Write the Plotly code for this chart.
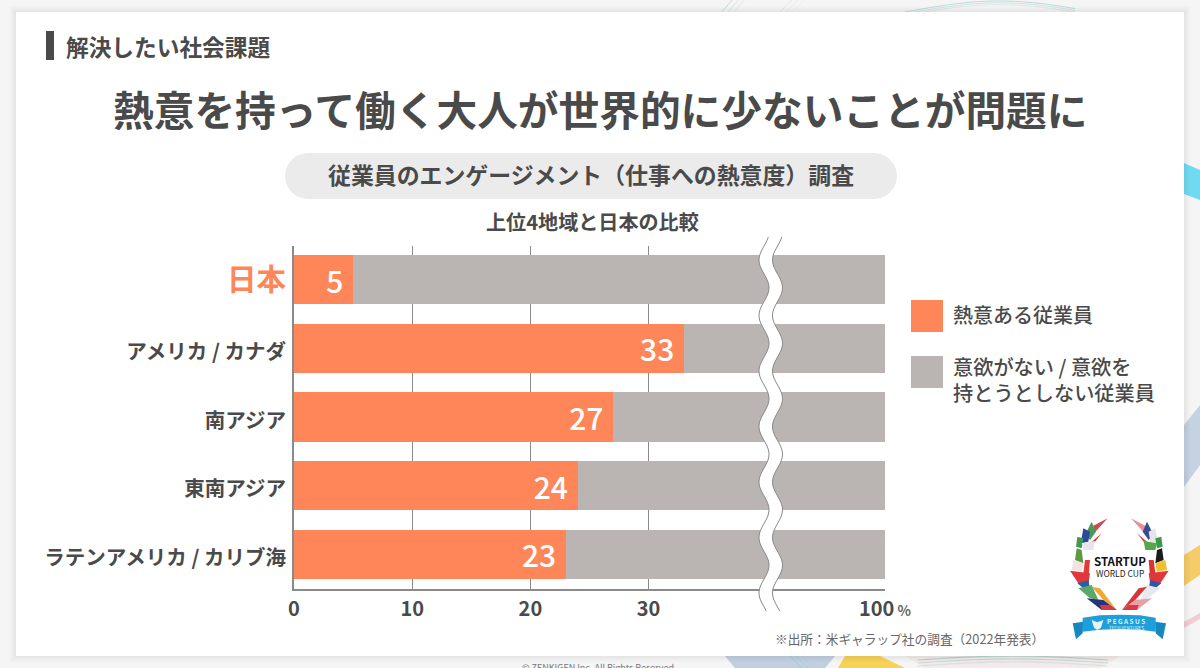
import math
import plotly.graph_objects as go

regions = ["日本", "アメリカ / カナダ", "南アジア", "東南アジア", "ラテンアメリカ / カリブ海"]
engaged = [5, 33, 27, 24, 23]
others = [95, 67, 73, 76, 77]
x_tick_values = [0, 10, 20, 30, 50]
x_tick_labels = ["0", "10", "20", "30", "100<span style='font-size:14px;color:#666'> %</span>"]
grid_values = [10, 20, 30]
series_names = ["熱意ある従業員", "意欲がない / 意欲を<br>持とうとしない従業員"]

ORANGE = "#ff8658"
GRAY = "#bab5b2"
INK = "#4a4a4a"
FONT = "Noto Sans CJK JP"
W, H = 1200, 668


def px(x):
    return x / W


def py(y):
    return 1 - y / H


def poly(points, fill, opacity=1, layer="above", ox=0, oy=0, scale=1, closed=True):
    d = "M " + " L ".join(f"{px(ox + a * scale):.5f},{py(oy + b * scale):.5f}" for a, b in points)
    if closed:
        d += " Z"
    s = dict(type="path", xref="paper", yref="paper", path=d, layer=layer, opacity=opacity,
             line=dict(width=0))
    if closed:
        s["fillcolor"] = fill
    return s


def line_path(points, color, width, opacity=1, layer="below"):
    d = "M " + " L ".join(f"{px(a):.5f},{py(b):.5f}" for a, b in points)
    return dict(type="path", xref="paper", yref="paper", path=d, layer=layer, opacity=opacity,
                line=dict(color=color, width=width))


def rect(x0, y0, x1, y1, fill, layer="below", opacity=1):
    return dict(type="rect", xref="paper", yref="paper", x0=px(x0), x1=px(x1), y0=py(y1), y1=py(y0),
                fillcolor=fill, line=dict(width=0), layer=layer, opacity=opacity)


def note(text, x, y, size, color=INK, anchor="left", weight=700, align="left", **kw):
    return dict(text=text, x=px(x), y=py(y), xref="paper", yref="paper", xanchor=anchor, yanchor="middle",
                showarrow=False, align=align, font=dict(family=FONT, size=size, color=color, weight=weight), **kw)


shapes = []
# background decoration
shapes += [
    poly([(1184, 163), (1200, 170), (1200, 200), (1184, 194)], "#58d6ee", 0.85, "below"),
    poly([(1184, 425), (1200, 405), (1200, 465), (1184, 487)], "#b9c9dc", 0.8, "below"),
    poly([(1184, 555), (1200, 545), (1200, 575), (1184, 586)], "#f6c85a", 0.9, "below"),
    poly([(1184, 622), (1200, 613), (1200, 619), (1184, 628)], "#f3c6d0", 0.9, "below"),
    poly([(725, 656), (835, 656), (825, 668), (735, 668)], "#bccbdc", 0.9, "below"),
    poly([(845, 656), (880, 656), (905, 668), (838, 668)], "#f7d04e", 0.95, "below"),
    poly([(905, 656), (1120, 656), (1100, 668), (925, 668)], "#f3e6e6", 0.7, "below"),
]
for off, op in ((0, 0.55), (3, 0.35), (6, 0.25)):
    pts = [(905 + i * 8.5, 12 - 11 * math.sin(i / 20 * math.pi * 0.9) + off * 0.6) for i in range(21)]
    shapes.append(line_path(pts, "#8fc9c6", 1, op))
    pts = [(918 + i * 9.5, 668 - 8 + off - 4 * math.sin(i / 20 * math.pi)) for i in range(21)]
    shapes.append(line_path(pts, "#7fc4bf", 1.2, op))
    shapes.append(line_path([(722 + off * 2, 12), (732 + off * 2, 0)], "#9cc9c9", 1, op))
    shapes.append(line_path([(780 + off * 2, 12), (792 + off * 2, 0)], "#cfe0e0", 1, op))
    shapes.append(line_path([(790 + off * 2, 656), (802 + off * 2, 668)], "#8ccac6", 1, op))

# card with a soft shadow
for g, op in ((6, 0.015), (4, 0.02), (2, 0.025)):
    shapes.append(rect(16 - g, 12 - g, 1184 + g, 656 + g, "#000000", opacity=op))
shapes.append(rect(16, 12, 1184, 656, "#ffffff"))

# heading marker and pill
shapes.append(rect(46, 31, 54, 60, INK))
r = 23
shapes.append(dict(type="path", xref="paper", yref="paper", layer="below", fillcolor="#ebebeb", line=dict(width=0),
                   path=("M " + " L ".join(
                       f"{px(a):.5f},{py(b):.5f}" for a, b in
                       [(285 + r - r * math.sin(t / 12 * math.pi), 176 - r * math.cos(t / 12 * math.pi)) for t in range(13)]
                       + [(897 - r + r * math.sin(t / 12 * math.pi), 176 + r * math.cos(t / 12 * math.pi)) for t in range(13)]
                   ) + " Z")))

# axis break
period = 55.5
ys = [237 + i * 2 for i in range(188)]
left = [(764 + 5 * math.cos((y - 260) / period * 2 * math.pi + math.pi), y) for y in ys]
right = [(a + 13.5, b) for a, b in left]
shapes.append(poly(left + right[::-1], "#ffffff"))
shapes.append(line_path(left, "#8a8a8a", 1, layer="above"))
shapes.append(line_path(right, "#8a8a8a", 1, layer="above"))

# legend swatches
shapes.append(rect(911, 300, 943, 332, ORANGE, "above"))
shapes.append(rect(911, 356, 943, 388, GRAY, "above"))

# emblem
LOGO = dict(ox=1040, oy=505, scale=1 / 3)
pieces = [
    ([(203, 40), (160, 62), (165, 82)], "#cf4a56", "#e8909a"),
    ([(155, 50), (168, 80), (150, 105), (135, 90)], "#4a9a5a", "#3b4a8e"),
    ([(130, 70), (150, 80), (145, 110), (122, 115)], "#2b4a9a", "#e4e4ea"),
    ([(112, 95), (130, 100), (125, 130), (108, 125)], "#3f9a50", "#3a9a4a"),
    ([(185, 85), (150, 115), (140, 130), (165, 110)], "#d83a3a", "#d83a3a"),
    ([(125, 115), (165, 108), (160, 135), (130, 135)], "#e6e6ec", "#54a84a"),
    ([(110, 130), (125, 135), (130, 175), (105, 165)], "#5f9a3e", "#1b1b1b"),
    ([(100, 165), (130, 175), (125, 200), (95, 195)], "#f2e2e2", "#f0c030"),
    ([(135, 165), (150, 165), (145, 225), (130, 205)], "#e23a3a", "#d9362f"),
    ([(90, 197), (150, 205), (145, 240), (115, 235)], "#e0383a", "#e0383a"),
    ([(112, 235), (145, 225), (150, 250), (130, 250)], "#2a5fa8", "#3058a8"),
    ([(115, 250), (155, 240), (175, 285), (150, 280)], "#5aa86a", "#e8e8f0"),
    ([(155, 245), (180, 250), (230, 315), (190, 285)], "#f0a830", "#d8353a"),
    ([(140, 280), (190, 285), (230, 315), (185, 315)], "#27337a", "#e8a0a6"),
    ([(180, 300), (210, 300), (230, 315), (185, 315)], "#d83a44", "#d83a44"),
]
for pts, c_left, c_right in pieces:
    shapes.append(poly(pts, c_left, **LOGO))
    shapes.append(poly([(476 - a, b) for a, b in pts], c_right, **LOGO))
shapes.append(poly([(98, 355), (130, 350), (128, 385), (108, 403)], "#1787bf", **LOGO))
shapes.append(poly([(378, 355), (345, 350), (347, 385), (368, 403)], "#1787bf", **LOGO))
shapes.append(poly([(128, 338), (180, 331), (240, 329), (300, 331), (347, 338), (347, 380), (300, 374),
                    (240, 372), (180, 374), (128, 380)], "#1f9fda", **LOGO))
shapes.append(poly([(155, 345), (172, 352), (190, 345), (183, 368), (172, 375), (162, 368)], "#e6f3fa", **LOGO))

annotations = [
    note("解決したい社会課題", 64, 46, 22.7, weight=700),
    note("熱意を持って働く大人が世界的に少ないことが問題に", 599.5, 108, 40.7, anchor="center"),
    note("従業員のエンゲージメント（仕事への熱意度）調査", 591, 174, 22.9, anchor="center"),
    note("上位4地域と日本の比較", 592.5, 221, 20.1, anchor="center"),
    note(series_names[0], 951, 314, 20, weight=500),
    note(series_names[1], 951, 379.5, 20.2, weight=500),
    note("※出所：米ギャラップ社の調査（2022年発表）", 773, 638, 12.7, color="#666666", weight=400),
    note("© ZENKIGEN Inc. All Rights Reserved.", 599, 667, 9, color="#777777", anchor="center", weight=400),
    note("STARTUP", 1119.5, 561, 11.5, color="#111111", anchor="center", weight=700),
    note("WORLD CUP", 1119.5, 573, 8.5, color="#222222", anchor="center", weight=400),
    note("P E G A S U S", 1126, 621, 6.5, color="#ffffff", anchor="center", weight=500),
    note("TECH VENTURES", 1126, 627.5, 4.5, color="#e8f6fc", anchor="center", weight=400),
]

tick_text = [f"<span style='font-size:29.5px;color:{ORANGE}'>{regions[0]}</span>"] + regions[1:]

fig = go.Figure()
fig.add_bar(y=regions, x=engaged, orientation="h", name="熱意ある従業員", marker=dict(color=ORANGE, line=dict(width=0)),
            text=[f"{v}\u00a0" for v in engaged], textposition="inside", insidetextanchor="end",
            constraintext="none", textangle=0,
            textfont=dict(family=FONT, size=30, color="#ffffff", weight=500), showlegend=False, hoverinfo="skip")
fig.add_bar(y=regions, x=others, orientation="h", name="意欲がない / 意欲を持とうとしない従業員",
            marker=dict(color=GRAY, line=dict(width=0)), showlegend=False, hoverinfo="skip")
# carries the region labels on a second axis set a few pixels lower than the bars' axis
fig.add_scatter(y=regions, x=engaged, xaxis="x2", yaxis="y2", mode="markers", marker=dict(opacity=0, size=1),
                showlegend=False, hoverinfo="skip")

fig.update_layout(
    width=W, height=H, autosize=False, margin=dict(l=0, r=0, t=0, b=0, pad=0),
    barmode="stack", bargap=0.285,
    paper_bgcolor="#f5f5f5", plot_bgcolor="rgba(0,0,0,0)",
    font=dict(family=FONT, color=INK),
    shapes=shapes, annotations=annotations,
    xaxis=dict(domain=[px(294), px(885)], range=[0, 50], tickmode="array", tickvals=x_tick_values,
               ticktext=x_tick_labels, showgrid=False, zeroline=False, showline=True, linecolor="#8a8a8a",
               linewidth=1.5, ticks="", ticklabelstandoff=2, automargin=False,
               tickfont=dict(family=FONT, size=20, color=INK, weight=700),
               minor=dict(tickmode="array", tickvals=grid_values, showgrid=True, gridcolor="#8a8a8a",
                          gridwidth=1, ticks="")),
    yaxis=dict(domain=[py(588.5), py(245.5)], range=[4.5, -0.5], type="category",
               categoryorder="array", categoryarray=regions, showticklabels=False,
               showgrid=False, zeroline=False, showline=True,
               linecolor="#8a8a8a", linewidth=1.5, ticks="", automargin=False),
    xaxis2=dict(domain=[px(294), px(885)], range=[0, 50], anchor="y2", visible=False, automargin=False),
    yaxis2=dict(domain=[py(592), py(249)], anchor="x2", range=[4.5, -0.5], type="category",
                categoryorder="array", categoryarray=regions, tickmode="array",
                tickvals=regions, ticktext=tick_text, showgrid=False, zeroline=False, showline=False,
                ticks="", ticklabelstandoff=7, automargin=False,
                tickfont=dict(family=FONT, size=20.5, color=INK, weight=700)),
)

fig.write_html("out.html", config=dict(displayModeBar=False),
               post_script="document.body.style.margin='0';document.body.style.overflow='hidden';")
